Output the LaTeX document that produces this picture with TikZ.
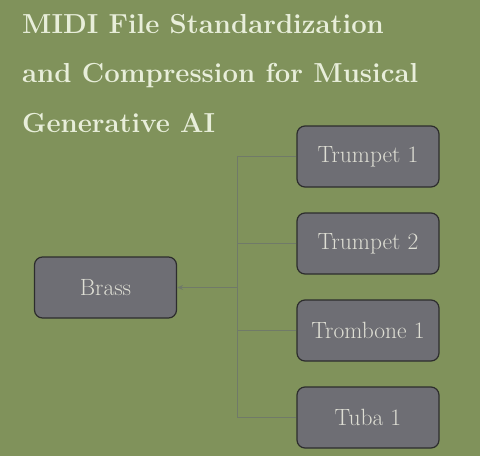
\documentclass[tikz,border=0pt]{standalone}
\usetikzlibrary{arrows.meta}
\definecolor{bg}{RGB}{128,146,91}
\definecolor{boxfill}{RGB}{110,110,116}
\definecolor{boxline}{RGB}{45,45,45}
\definecolor{boxtext}{RGB}{222,222,212}
\definecolor{titletext}{RGB}{232,238,218}
\definecolor{conn}{RGB}{112,122,104}
\begin{document}
\begin{tikzpicture}[x=1pt,y=1pt,
  inst/.style={draw=boxline, line width=1.2pt, fill=boxfill, rounded corners=8pt,
    minimum width=142pt, minimum height=61pt, inner sep=0pt,
    text=boxtext, font=\fontsize{23.5}{28}\selectfont},
  ttl/.style={anchor=base west, inner sep=0pt, text=titletext,
    font=\fontsize{27.5}{32}\selectfont\bfseries},
  link/.style={draw=conn, line width=0.8pt}
]
\fill[bg] (0,0) rectangle (480,-456);
\useasboundingbox (0,0) rectangle (480,-456);
\node[ttl] (t1) at (22,-33) {MIDI File Standardization};
\node[ttl] (t2) at (22,-82) {and Compression for Musical};
\node[ttl] (t3) at (22,-132) {Generative AI};
\node[inst] (brass) at (105.5,-287.5) {Brass};
\node[inst] (tp1) at (368,-156.5) {Trumpet 1};
\node[inst] (tp2) at (368,-243.5) {Trumpet 2};
\node[inst] (tb1) at (368,-330.5) {Trombone 1};
\node[inst] (tu1) at (368,-417.5) {Tuba 1};
\coordinate (j) at (237,-287.5);
\draw[link] (tp1.west) -- (tp1.west -| j) -- (tu1.west -| j) -- (tu1.west);
\draw[link] (tp2.west) -- (tp2.west -| j);
\draw[link] (tb1.west) -- (tb1.west -| j);
\draw[link, -{Stealth[length=6pt,width=5pt]}] (j) -- (brass.east);
\end{tikzpicture}
\end{document}
